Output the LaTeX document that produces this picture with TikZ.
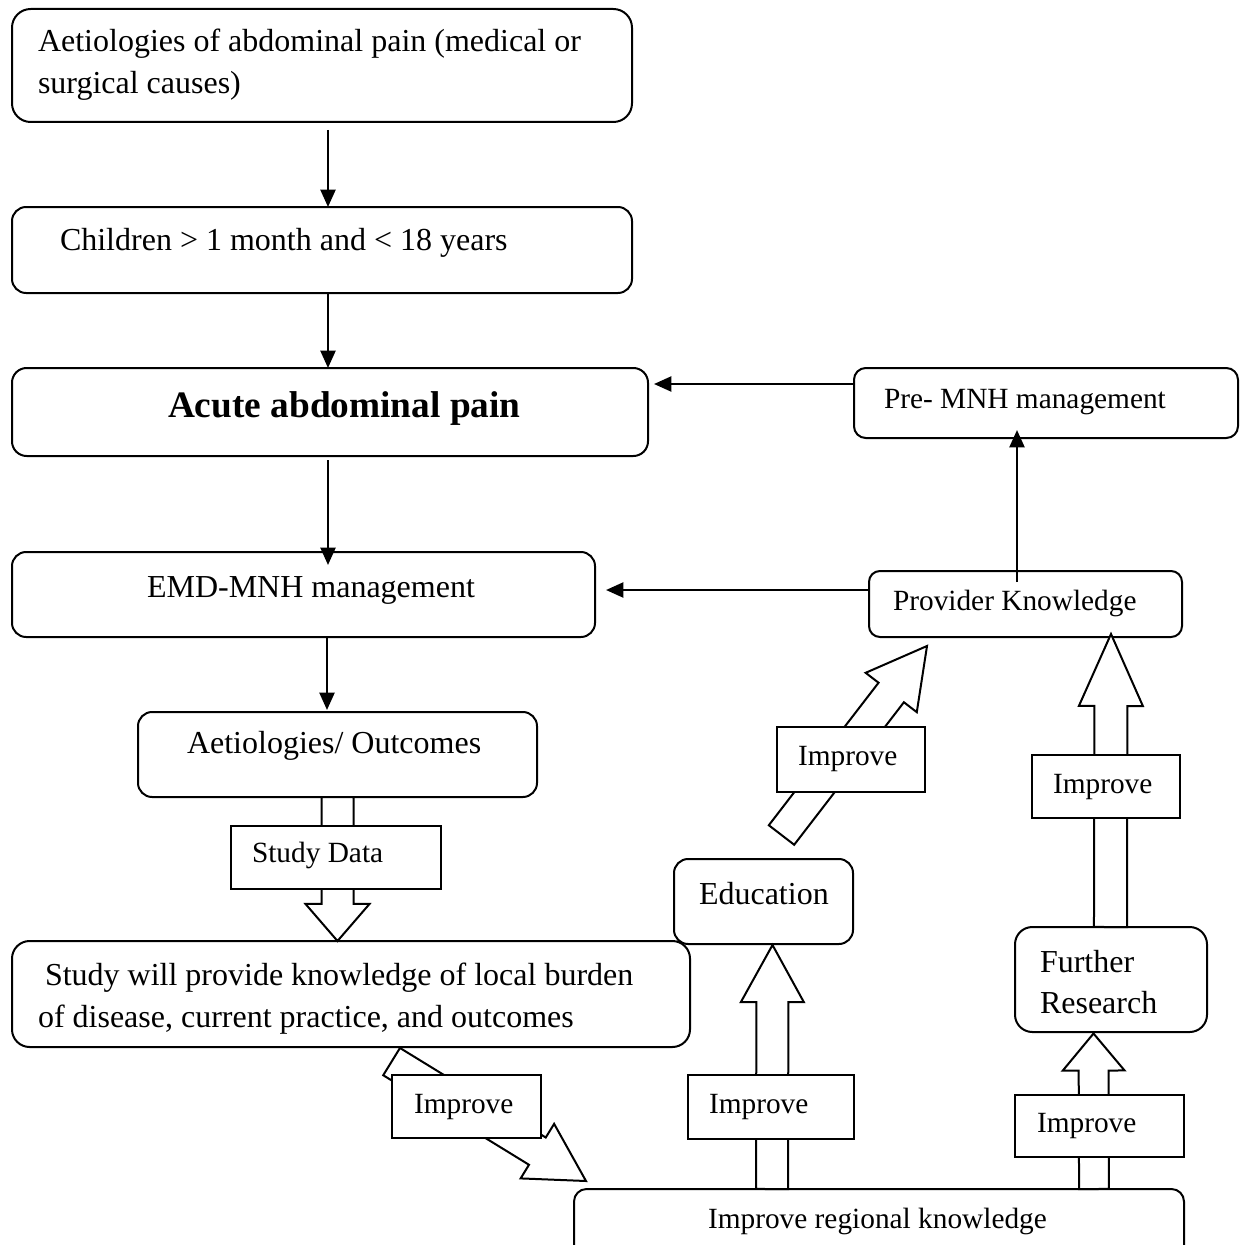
\documentclass[tikz,border=0pt]{standalone}
\usepackage{fontspec}
\setmainfont{Liberation Serif}
\usetikzlibrary{arrows.meta,calc}
\newcommand\mybox[6]{\node[#6,minimum width={(#4-#2)*0.375pt},minimum height={(#5-#3)*0.375pt}] (#1) at ({(#2+#4)/2},{(#3+#5)/2}) {};}
\newcommand\blockarrow[5]{%
 \coordinate (hb) at ($(#2)!#5!(#1)$);
 \draw[blk] ($(#1)!#3!90:(#2)$) -- ($(hb)!#3!90:(#2)$) -- ($(hb)!#4!90:(#2)$) -- (#2) -- ($(hb)!#4!-90:(#2)$) -- ($(hb)!#3!-90:(#2)$) -- ($(#1)!#3!-90:(#2)$) -- cycle;}
\newcommand\ftw{\fontsize{12pt}{14pt}\selectfont}
\newcommand\fel{\fontsize{11pt}{13pt}\selectfont}
\newcommand\fbig{\fontsize{14pt}{16pt}\selectfont\bfseries}
\begin{document}
\begin{tikzpicture}[x=0.375pt,y=-0.375pt,
  box/.style={draw,line width=0.75pt,inner sep=0pt,outer sep=0pt},
  rbox/.style={box,rounded corners=#1},
  sbox/.style={box,fill=white},
  txt/.style={inner sep=0pt,outer sep=0pt,anchor=base west},
  arr/.style={line width=0.9pt,-{Triangle[length=6.5pt,width=5.6pt]}},
  blk/.style={draw,fill=white,line width=0.75pt,line join=miter}]
\useasboundingbox (0,0) rectangle (1241,1245);
\fill[white] (0,0) rectangle (1241,1245);
\clip (0,0) rectangle (1241,1245);

% rounded boxes
\mybox{b1}{12}{9}{632}{122}{rbox=7pt}
\mybox{b2}{12}{207}{632}{293}{rbox=5.3pt}
\mybox{b3}{12}{368}{648}{456}{rbox=5.5pt}
\mybox{b4}{12}{552}{595}{637}{rbox=5.3pt}
\mybox{b5}{138}{712}{537}{797}{rbox=5.3pt}
\mybox{b6}{12}{941}{690}{1047}{rbox=6.6pt}
\mybox{pre}{854}{368}{1238}{438}{rbox=4.4pt}
\mybox{prov}{869}{571}{1182}{637}{rbox=4.1pt}
\mybox{edu}{674}{859}{853}{944}{rbox=5.3pt}
\mybox{fr}{1015}{927}{1207}{1032}{rbox=6.5pt}
\mybox{b7}{574}{1189}{1184}{1275}{rbox=4.7pt}

% thin arrows
\draw[arr] ($(b1.south)+(6,8)$) -- ($(b2.north)+(6,0)$);
\draw[arr] ($(b2.south)+(6,0)$) -- ($(b3.north)+(-2,0)$);
\draw[arr] ($(b3.south)+(-2,4)$) -- ($(b4.north)+(24.5,13)$);
\draw[arr] ($(b4.south)+(23.5,0)$) -- ($(b5.north)+(-10.5,-2)$);
\draw[arr] ($(pre.west)+(0,-19)$) -- ($(b3.east)+(6,-28)$);
\draw[arr] ($(prov.west)+(0,-14)$) -- ($(b4.east)+(11,-4.5)$);
\draw[arr] ($(prov.north)+(-8.5,11)$) -- ($(pre.south)+(-29,-8)$);

% block arrows
\coordinate (aT) at (b5.south);
\coordinate (aH) at (b5.south |- b6.north);
\blockarrow{aT}{aH}{6pt}{12pt}{13.9pt}
\coordinate (dT) at (391.6,1061.6);
\coordinate (dH) at (586,1181);
\blockarrow{dT}{dH}{6pt}{12pt}{21.4pt}
\coordinate (eT) at (772,1189);
\coordinate (eH) at (772.5,945);
\blockarrow{eT}{eH}{6pt}{11.8pt}{21.4pt}
\coordinate (gT) at (781.5,835);
\coordinate (gH) at (927,646);
\blockarrow{gT}{gH}{6pt}{12.1pt}{22pt}
\coordinate (uT) at (1110.5,927);
\coordinate (uH) at (1111,634);
\blockarrow{uT}{uH}{6.2pt}{12pt}{27pt}
\coordinate (lT) at (1094,1189);
\coordinate (lH) at (1093.5,1033.5);
\blockarrow{lT}{lH}{5.6pt}{11.6pt}{13.9pt}

% label rectangles
\mybox{sd}{231}{826}{441}{889}{sbox}
\mybox{im1}{392}{1075}{541}{1138}{sbox}
\mybox{im2}{688}{1075}{854}{1139}{sbox}
\mybox{im3}{777}{727}{925}{792}{sbox}
\mybox{im4}{1032}{755}{1180}{818}{sbox}
\mybox{im5}{1015}{1095}{1184}{1157}{sbox}

% texts
\node[txt,font=\ftw] (t1a) at (38,52) {Aetiologies of abdominal pain (medical or};
\node[txt,font=\ftw] (t1b) at (38,94) {surgical causes)};
\node[txt,font=\ftw] (t2) at (60,250) {Children > 1 month and < 18 years};
\node[txt,font=\fbig] (t3) at (168,417) {Acute abdominal pain};
\node[txt,font=\ftw] (t4) at (147,597) {EMD-MNH management};
\node[txt,font=\ftw] (t5) at (187,753) {Aetiologies/ Outcomes};
\node[txt,font=\fel] (tsd) at (252,862) {Study Data};
\node[txt,font=\ftw] (t6a) at (45,985) {Study will provide knowledge of local burden};
\node[txt,font=\ftw] (t6b) at (38,1027) {of disease, current practice, and outcomes};
\node[txt,font=\fel] (tim1) at (414,1113) {Improve};
\node[txt,font=\fel] (tim2) at (709,1113) {Improve};
\node[txt,font=\fel] (tim3) at (798,765) {Improve};
\node[txt,font=\fel] (tim4) at (1053,793) {Improve};
\node[txt,font=\fel] (tim5) at (1037,1132) {Improve};
\node[txt,font=\fel] (t7) at (708,1228) {Improve regional knowledge};
\node[txt,font=\ftw] (tedu) at (699,904) {Education};
\node[txt,font=\ftw] (tfr1) at (1040,972) {Further};
\node[txt,font=\ftw] (tfr2) at (1040,1013) {Research};
\node[txt,font=\fel] (tpre) at (884,408) {Pre- MNH management};
\node[txt,font=\fel] (tprov) at (893,610) {Provider Knowledge};
\end{tikzpicture}
\end{document}
